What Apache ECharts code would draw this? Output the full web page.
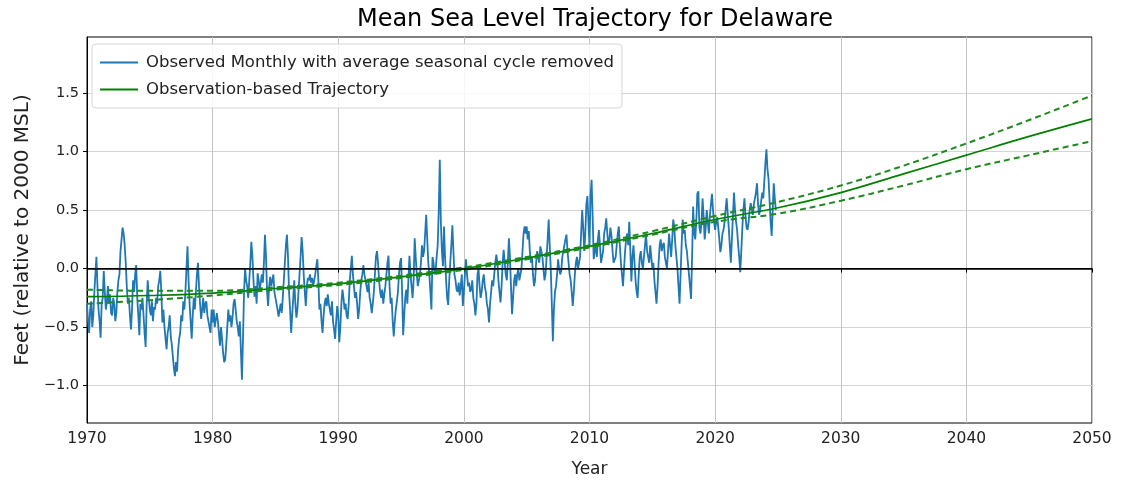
<!DOCTYPE html>
<html>
<head>
<meta charset="utf-8">
<title>Mean Sea Level Trajectory for Delaware</title>
<script src="https://cdn.jsdelivr.net/npm/echarts@6/dist/echarts.min.js"></script>
<style>
  html, body { margin: 0; padding: 0; background: #fff; }
  #chart { width: 1128px; height: 483px; }
</style>
</head>
<body>
<div id="chart"></div>
<script>
var obs1970s = [
  -0.30, -0.45, -0.55, -0.35, -0.28, -0.50, -0.40, -0.20, -0.05, 0.10, -0.15, -0.35,
  -0.45, -0.59, -0.30, -0.25, -0.02, -0.20, -0.35, -0.28, -0.15, -0.30, -0.22, -0.38,
  -0.40, -0.25, -0.30, -0.45, -0.38, -0.20, -0.10, -0.05, 0.15, 0.25, 0.35, 0.30,
  0.20, 0.05, -0.15, -0.30, -0.25, -0.40, -0.52, -0.35, -0.10, -0.20, -0.05, 0.03,
  -0.25, -0.40, -0.57, -0.30, -0.35, -0.25, -0.40, -0.55, -0.67, -0.30, -0.10, -0.25,
  -0.35, -0.40, -0.28, -0.45, -0.33, -0.35, -0.25, -0.30, -0.15, -0.10, -0.02, -0.20,
  -0.46, -0.35, -0.50, -0.60, -0.69, -0.55, -0.50, -0.40, -0.58, -0.65, -0.75, -0.85,
  -0.92, -0.80, -0.88, -0.70, -0.60, -0.55, -0.40, -0.45, -0.28, -0.35, -0.20, 0.00,
  0.19, -0.10, -0.30, -0.45, -0.60, -0.40, -0.25, -0.35, -0.20, -0.05, 0.05, -0.15,
  -0.30, -0.43, -0.35, -0.25, -0.38, -0.30, -0.28, -0.40, -0.45, -0.50, -0.55, -0.35
];
var obs1980s = [
  -0.46, -0.35, -0.50, -0.44, -0.38, -0.45, -0.55, -0.66, -0.50, -0.60, -0.72, -0.80,
  -0.78, -0.65, -0.50, -0.35, -0.45, -0.40, -0.50, -0.42, -0.30, -0.26, -0.35, -0.45,
  -0.50, -0.58, -0.45, -0.70, -0.95, -0.60, -0.20, 0.00, -0.10, -0.15, -0.25, -0.10,
  0.05, 0.23, 0.10, -0.10, -0.24, -0.15, -0.30, -0.04, -0.10, -0.18, -0.12, -0.05,
  -0.12, 0.05, 0.29, 0.10, -0.20, -0.32, -0.15, -0.07, -0.15, -0.10, -0.05, -0.20,
  -0.25, -0.30, -0.35, -0.41, -0.35, -0.30, -0.38, -0.25, -0.10, 0.05, 0.20, 0.29,
  0.10, -0.20, -0.35, -0.55, -0.40, -0.25, -0.10, -0.30, -0.42, -0.35, -0.20, -0.05,
  0.10, 0.27, 0.15, -0.05, -0.20, -0.32, -0.15, -0.08, -0.10, -0.05, -0.12, -0.08,
  -0.15, -0.10, -0.05, 0.02, 0.08, -0.10, -0.35, -0.30, -0.45, -0.55, -0.40, -0.30,
  -0.25, -0.32, -0.22, -0.30, -0.35, -0.40, -0.28, -0.45, -0.52, -0.60, -0.45, -0.32
];
var obs1990s = [
  -0.40, -0.63, -0.50, -0.30, -0.18, -0.25, -0.35, -0.30, -0.40, -0.43, -0.30, -0.10,
  0.00, 0.11, -0.05, -0.15, -0.25, -0.20, -0.30, -0.43, -0.35, -0.20, -0.10, -0.05,
  0.03, -0.05, -0.10, -0.15, -0.20, -0.12, -0.25, -0.30, -0.38, -0.30, -0.20, -0.05,
  0.10, 0.15, 0.05, -0.10, -0.20, -0.25, -0.18, -0.30, -0.22, -0.15, -0.05, 0.05,
  0.11, -0.15, -0.30, -0.25, -0.45, -0.58, -0.45, -0.35, -0.28, -0.20, -0.05, 0.05,
  0.09, -0.20, -0.57, -0.40, -0.25, -0.18, -0.30, -0.10, 0.11, -0.05, -0.15, -0.25,
  -0.10, 0.26, 0.10, -0.05, -0.15, -0.10, -0.05, 0.05, 0.20, 0.10, 0.15, 0.30,
  0.46, 0.25, 0.05, -0.05, -0.20, -0.35, 0.10, 0.05, -0.05, -0.02, 0.10, 0.20,
  0.50, 0.93, 0.40, 0.15, 0.02, 0.36, 0.10, -0.10, -0.25, -0.31, -0.10, 0.05,
  0.20, 0.37, 0.15, -0.05, -0.10, -0.18, -0.20, -0.12, -0.23, -0.15, -0.05, -0.32
];
var obs2000s = [
  -0.20, -0.05, 0.08, -0.05, -0.15, -0.12, -0.20, -0.18, -0.10, -0.25, -0.30, -0.40,
  -0.30, -0.05, 0.00, -0.15, -0.25, -0.20, -0.10, -0.05, -0.15, -0.20, -0.30, -0.35,
  -0.46, -0.30, -0.20, -0.10, -0.15, -0.05, 0.05, 0.12, 0.05, -0.10, -0.20, -0.29,
  -0.15, 0.05, 0.16, 0.05, -0.05, -0.10, 0.05, 0.26, 0.10, -0.15, -0.39, -0.25,
  -0.10, -0.05, -0.15, -0.05, 0.00, -0.10, -0.05, 0.00, 0.15, 0.30, 0.36, 0.30,
  0.36, 0.25, 0.32, 0.15, 0.05, 0.10, -0.05, -0.15, -0.10, 0.05, 0.15, 0.10,
  0.05, 0.19, 0.15, 0.10, 0.00, -0.10, -0.05, 0.10, 0.25, 0.42, 0.20, 0.00,
  -0.30, -0.62, -0.35, -0.20, -0.15, -0.05, 0.08, 0.00, -0.05, -0.02, 0.10, 0.15,
  0.20, 0.25, 0.29, 0.15, 0.05, -0.05, -0.10, -0.20, -0.32, -0.20, -0.05, 0.05,
  0.10, 0.00, 0.05, 0.10, 0.30, 0.50, 0.35, 0.15, 0.30, 0.55, 0.62, 0.40
];
var obs2010s = [
  0.19, 0.62, 0.76, 0.45, 0.08, 0.15, 0.20, 0.10, 0.25, 0.33, 0.20, 0.05,
  0.10, 0.15, 0.30, 0.35, 0.43, 0.30, 0.20, 0.25, 0.35, 0.28, 0.15, 0.05,
  0.05, 0.10, 0.20, 0.30, 0.36, 0.20, 0.05, -0.05, -0.15, 0.00, 0.15, 0.25,
  0.30, 0.20, 0.40, 0.15, -0.11, 0.10, 0.20, 0.05, -0.10, -0.20, -0.25, -0.05,
  0.10, 0.15, 0.05, 0.00, 0.10, 0.20, 0.30, 0.15, 0.10, 0.05, 0.20, 0.10,
  0.00, 0.05, -0.10, -0.20, -0.30, -0.15, 0.05, 0.20, 0.25, 0.15, 0.20, 0.22,
  0.10, 0.05, 0.00, 0.15, 0.30, 0.20, 0.10, 0.25, 0.42, 0.35, 0.20, 0.10,
  0.00, -0.15, -0.30, -0.05, 0.20, 0.42, 0.30, 0.33, 0.20, 0.15, 0.05, -0.05,
  -0.15, -0.26, 0.10, 0.53, 0.30, 0.25, 0.40, 0.64, 0.66, 0.35, 0.30, 0.40,
  0.60, 0.45, 0.25, 0.35, 0.50, 0.40, 0.30, 0.45, 0.55, 0.64, 0.50, 0.40
];
var obs2020s = [
  0.33, 0.40, 0.44, 0.35, 0.25, 0.14, 0.20, 0.30, 0.33, 0.40, 0.50, 0.60,
  0.60, 0.35, 0.20, 0.05, 0.25, 0.45, 0.65, 0.50, 0.40, 0.33, 0.20, 0.10,
  -0.03, 0.15, 0.35, 0.50, 0.60, 0.45, 0.35, 0.33, 0.40, 0.50, 0.56, 0.50,
  0.46, 0.55, 0.60, 0.65, 0.73, 0.55, 0.46, 0.50, 0.58, 0.65, 0.60, 0.75,
  0.90, 1.02, 0.85, 0.77, 0.58, 0.40, 0.28, 0.50, 0.73, 0.60, 0.50
];

// observation-based trajectory (feet), every 5 years
var trajYears = [1970, 1975, 1980, 1985, 1990, 1995, 2000, 2005, 2010, 2015, 2020, 2025, 2030, 2035, 2040, 2045, 2050];
var trajMid   = [-0.24, -0.23, -0.21, -0.17, -0.13, -0.07, 0.00, 0.09, 0.19, 0.30, 0.42, 0.52, 0.65, 0.81, 0.97, 1.13, 1.28];
var trajUpper = [-0.18, -0.19, -0.19, -0.16, -0.12, -0.06, 0.01, 0.10, 0.20, 0.32, 0.45, 0.57, 0.71, 0.88, 1.07, 1.27, 1.48];
var trajLower = [-0.30, -0.27, -0.23, -0.18, -0.14, -0.08, -0.01, 0.08, 0.18, 0.29, 0.40, 0.47, 0.58, 0.71, 0.85, 0.97, 1.09];

var yTicks = [-1.0, -0.5, 0.0, 0.5, 1.0, 1.5];

var observed = obs1970s.concat(obs1980s, obs1990s, obs2000s, obs2010s, obs2020s);
var obsData = observed.map(function (v, i) {
  return [1970 + i / 12, v];
});
function pairs(vals) {
  return trajYears.map(function (y, i) { return [y, vals[i]]; });
}

var font = "DejaVu Sans";
var chart = echarts.init(document.getElementById("chart"));

var option = {
  animation: false,
  textStyle: { fontFamily: font },
  title: {
    text: "Mean Sea Level Trajectory for Delaware",
    left: 590,
    top: 3,
    textAlign: "center",
    textStyle: { fontFamily: font, fontSize: 24, fontWeight: "normal", color: "#000" }
  },
  legend: {
    orient: "vertical",
    left: 92,
    top: 44,
    padding: [10, 8, 10, 8],
    itemGap: 10,
    itemWidth: 38,
    itemHeight: 2,
    icon: "rect",
    backgroundColor: "rgba(255,255,255,0.85)",
    borderColor: "#d6d6d6",
    borderWidth: 1,
    borderRadius: 4,
    textStyle: { fontFamily: font, fontSize: 16.5, color: "#222", padding: [0, 0, 0, 3] },
    data: ["Observed Monthly with average seasonal cycle removed", "Observation-based Trajectory"]
  },
  grid: {
    left: 87,
    right: 36,
    top: 37,
    bottom: 60,
    show: true,
    borderColor: "#000",
    borderWidth: 1
  },
  xAxis: {
    type: "value",
    min: 1970,
    max: 2050,
    interval: 10,
    name: "Year",
    nameLocation: "middle",
    nameGap: 38,
    nameTextStyle: { fontFamily: font, fontSize: 17, color: "#222" },
    axisLine: { lineStyle: { color: "#000" } },
    axisTick: { show: true, length: 4, lineStyle: { color: "#000" } },
    axisLabel: { fontFamily: font, fontSize: 15.5, color: "#222", margin: 8, formatter: function (v) { return String(v); } },
    splitLine: { show: true, lineStyle: { color: "#c4c4c4", width: 1 } }
  },
  yAxis: {
    type: "value",
    min: -1.32,
    max: 1.98,
    name: "Feet (relative to 2000 MSL)",
    nameLocation: "middle",
    nameGap: 54,
    nameTextStyle: { fontFamily: font, fontSize: 20, color: "#222" },
    axisLine: { show: true, lineStyle: { color: "#000" } },
    axisTick: { show: true, length: 4, lineStyle: { color: "#000" }, customValues: yTicks },
    axisLabel: {
      fontFamily: font, fontSize: 14.5, color: "#222", margin: 8,
      customValues: yTicks,
      formatter: function (v) { return v.toFixed(1).replace("-", "\u2212"); }
    },
    splitLine: { show: true, lineStyle: { color: "#d4d4d4", width: 1 } }
  },
  series: [
    {
      name: "Observed Monthly with average seasonal cycle removed",
      type: "line",
      data: obsData,
      showSymbol: false,
      color: "#1f77b4",
      lineStyle: { width: 1.8, color: "#1f77b4" },
      markLine: {
        silent: true,
        symbol: "none",
        label: { show: false },
        lineStyle: { color: "#000", width: 1.6, type: "solid" },
        data: [{ yAxis: 0 }]
      }
    },
    {
      name: "Observation-based Trajectory",
      type: "line",
      data: pairs(trajMid),
      smooth: 0.4,
      showSymbol: false,
      color: "#008000",
      lineStyle: { width: 1.7, color: "#008000" }
    },
    {
      name: "upper",
      type: "line",
      data: pairs(trajUpper),
      smooth: 0.4,
      showSymbol: false,
      lineStyle: { width: 2, color: "#1e8a1e", type: [6, 4] }
    },
    {
      name: "lower",
      type: "line",
      data: pairs(trajLower),
      smooth: 0.4,
      showSymbol: false,
      lineStyle: { width: 2, color: "#1e8a1e", type: [6, 4] }
    }
  ]
};

chart.setOption(option);
</script>
</body>
</html>
